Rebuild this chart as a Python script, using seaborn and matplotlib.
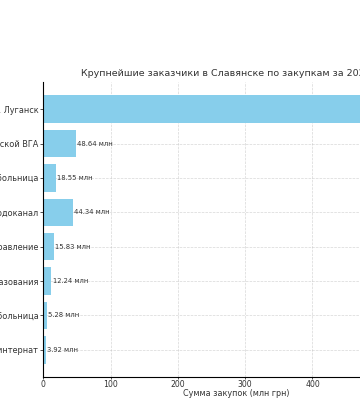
import matplotlib
matplotlib.use('Agg')
import matplotlib.pyplot as plt
import seaborn as sns
import pandas as pd

# Данные: заказчики и сумма закупок (млн грн)
customers = [
    'Коммунальное предприятие г. Луганск',
    'Отдел образования Славянской ВГА',
    'Славянская городская больница',
    'КП Славводоканал',
    'Финансовое управление',
    'Управление образования',
    'Детская больница',
    'Славянский интернат',
]
amounts = [546.0, 48.64, 18.55, 44.34, 15.83, 12.24, 5.28, 3.92]

df = pd.DataFrame({'Заказчик': customers, 'Сумма': amounts})

fig = plt.figure(figsize=(3.6, 4.0), dpi=100)
# оси шире холста: правая часть и начало подписей обрезаны, как на оригинале
ax = fig.add_axes([0.120, 0.0575, 1.072, 0.7375])

sns.barplot(data=df, x='Сумма', y='Заказчик', orient='h', color='skyblue',
            width=0.8, saturation=1, ax=ax)

"подписи значений у концов столбцов"
for i, v in enumerate(amounts):
    ax.text(v + 2, i, f'{v:.2f} млн', va='center', ha='left',
            fontsize=4.9, color='#333333')

"поля по оси категорий как у обычного barh"
n = len(customers)
ax.set_ylim(n - 0.6 + 0.39, -0.4 - 0.39)

ax.set_title('Крупнейшие заказчики в Славянске по закупкам за 2024 год',
             fontsize=6.8, color='#333333', pad=4)
ax.set_xlabel('Сумма закупок (млн грн)', fontsize=5.8, color='#333333', labelpad=0)
ax.set_ylabel('')
ax.tick_params(axis='x', labelsize=5.6, colors='#333333', length=1.5, width=0.6, pad=0.8)
ax.tick_params(axis='y', labelsize=5.9, colors='#333333', length=2, width=0.6, pad=1.5)
ax.grid(True, linestyle='--', linewidth=0.5, alpha=0.5)
ax.set_axisbelow(True)
for side in ['top', 'right']:
    ax.spines[side].set_visible(False)
for side in ['left', 'bottom']:
    ax.spines[side].set_linewidth(0.8)

fig.savefig('out.png', dpi=100)
